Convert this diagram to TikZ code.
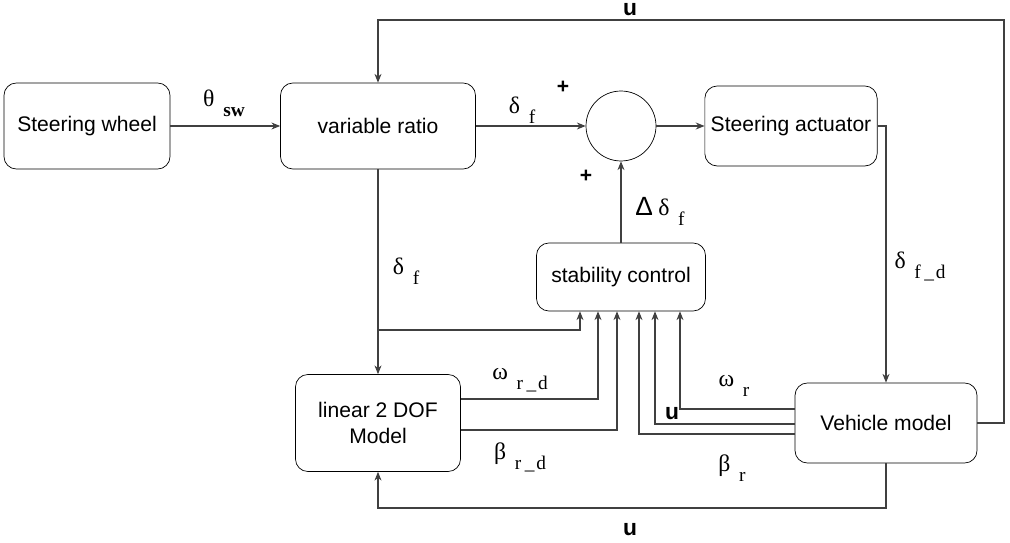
\documentclass[tikz,border=0pt]{standalone}
\usepackage{fontspec}
\setmainfont{Liberation Sans}
\newfontfamily\greekserif{Liberation Serif}
\usetikzlibrary{arrows.meta}
\usetikzlibrary{calc}
\newcommand\gsub[2]{{\greekserif #1}\hspace{5pt}\raisebox{-0.8ex}{\greekserif\fontsize{11}{13}\selectfont #2}}
\tikzset{
  caixa/.style={draw, rounded corners=7pt, align=center, font=\fontsize{12}{15}\selectfont, minimum width=#1},
  caixa/.default=3.3cm,
  seta/.style={-{Stealth[length=5pt,width=4pt]}, semithick, draw=black!75},
  rotulo/.style={font=\fontsize{13.5}{15}\selectfont},
  ubold/.style={font=\bfseries\fontsize{13}{15}\selectfont, inner sep=0pt},
}
\begin{document}
\begin{tikzpicture}[x=0.02cm, y=-0.02cm]
  \useasboundingbox (0,0) rectangle (1010,543);
  \node[caixa=3.32cm, minimum height=1.72cm] (sw) at (87,126) {Steering wheel};
  \node[caixa=3.9cm, minimum height=1.72cm] (vr) at (378,126) {variable ratio};
  \node[draw, circle, minimum size=1.4cm] (sum) at (621,126) {};
  \node[caixa=3.44cm, minimum height=1.6cm] (act) at (791,126) {Steering actuator};
  \node[caixa=3.38cm, minimum height=1.36cm] (stab) at (621,277) {stability control};
  \node[caixa=3.3cm, minimum height=1.94cm] (lin) at (378,423) {linear 2 DOF\\Model};
  \node[caixa=3.64cm, minimum height=1.6cm] (veh) at (886,423) {Vehicle model};
  % pontos livres
  \coordinate (ru) at (1004,20);
  \coordinate (rd) at (886,508);
  \coordinate (br) at (378,330);
  \foreach \n/\dx in {a/-41, b/-23, c/-4, d/18, e/34, f/59}
    \coordinate (in\n) at ($(stab.south)+(\dx,0)$);
  \draw[seta] (sw) -- (vr);
  \draw[seta] (vr) -- (sum);
  \draw[seta] (sum) -- (act);
  \draw[seta] (stab) -- (sum);
  \draw[seta] (act.east) -| (veh.north);
  \draw[seta] (veh.east) -| (ru) -| (vr.north);
  \draw[seta] (veh.south) -- (rd) -| (lin.south);
  \draw[seta] (vr.south) -- (lin.north);
  \draw[seta] (br) -| (ina);
  \draw[seta] ($(lin.east)+(0,-24)$) -| (inb);
  \draw[seta] ($(lin.east)+(0,7)$) -| (inc);
  \draw[seta] ($(veh.west)+(0,11)$) -| (ind);
  \draw[seta] ($(veh.west)+(0,1)$) -| (ine);
  \draw[seta] ($(veh.west)+(0,-14)$) -| (inf);
  % rotulos
  \node[rotulo] (lsw) at (224,103) {\gsub{θ}{\textbf{sw}}};
  \node[rotulo] (ldf) at (522,110) {\gsub{δ}{f}};
  \node[font=\bfseries\large] (p1) at (563,87) {+};
  \node[font=\bfseries\large] (p2) at (586,176) {+};
  \node[rotulo] (ldd) at (660,211) {{\fontsize{15}{17}\selectfont Δ}\hspace{3pt}\gsub{δ}{f}};
  \node[rotulo] (ldv) at (406,271) {\gsub{δ}{f}};
  \node[rotulo] (lfd) at (920,266) {\gsub{δ}{f\hspace{2pt}\_\hspace{1pt}d}};
  \node[rotulo] (lwd) at (520,380) {\gsub{ω}{r\hspace{2pt}\_\hspace{1pt}d}};
  \node[rotulo] (lbd) at (520,457) {\gsub{β}{r\hspace{2pt}\_\hspace{1pt}d}};
  \node[rotulo] (lwr) at (734,386) {\gsub{ω}{r}};
  \node[rotulo] (lbr) at (732,468) {\gsub{β}{r}};
  \node[ubold] (ut) at (630,10) {u};
  \node[ubold] (ub) at (630,530) {u};
  \node[ubold] (um) at (672,414) {u};
\end{tikzpicture}
\end{document}
